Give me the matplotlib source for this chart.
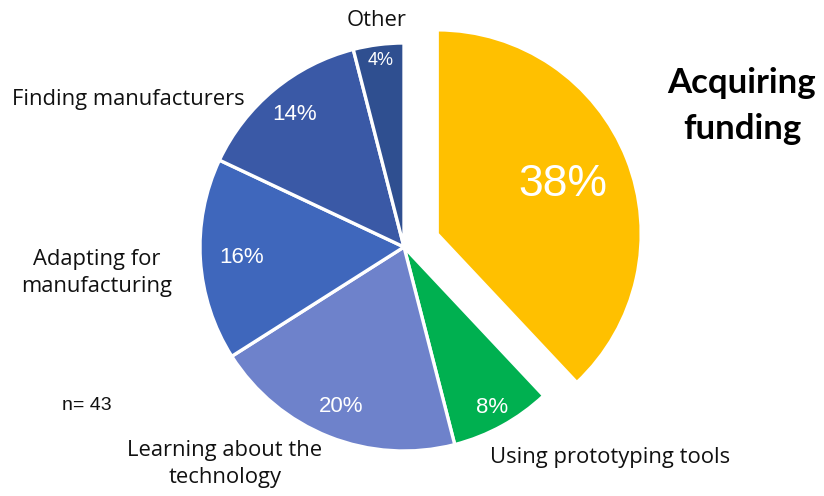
import numpy as np
import matplotlib
matplotlib.use("Agg")
import matplotlib.pyplot as plt

# Survey: biggest challenges reported (n = 43)
categories = ["Acquiring funding", "Using prototyping tools", "Learning about the technology",
              "Adapting for manufacturing", "Finding manufacturers", "Other"]
shares = [38, 8, 20, 16, 14, 4]
colors = ["#FFC000", "#00B050", "#6E82CB", "#3F67BC", "#3A59A6", "#2F4F90"]
explode_frac = [0.175, 0, 0, 0, 0, 0]
pct_dist = [0.66, 0.90, 0.84, 0.80, 0.84, 0.92]
pct_size = [32, 16, 16, 16, 16, 13]
sample_note = "n= 43"

W, H = 824, 496
fig = plt.figure(figsize=(W / 100, H / 100), dpi=100)
ax = fig.add_axes([0, 0, 1, 1])

cx, cy, R = 404, H - 247, 204
wedges, _ = ax.pie(shares, colors=colors, explode=[e * R for e in explode_frac],
                   startangle=90, counterclock=False, center=(cx, cy), radius=R,
                   wedgeprops=dict(edgecolor="white", linewidth=2.4),
                   frame=True)
ax.set_xlim(0, W)
ax.set_ylim(0, H)
ax.set_aspect("equal")
ax.axis("off")

for w, v, d, fs in zip(wedges, shares, pct_dist, pct_size):
    mid = np.deg2rad((w.theta1 + w.theta2) / 2)
    wx, wy = w.center
    ax.text(wx + d * R * np.cos(mid), wy + d * R * np.sin(mid), f"{v}%",
            color="white", fontsize=fs, ha="center", va="center",
            family="Liberation Sans")

lab_font = dict(family="Open Sans", fontsize=15.8, color="#111111")
ax.text(377, H - 21, "Other", ha="center", va="center", **lab_font)
ax.text(128, H - 100, "Finding manufacturers", ha="center", va="center", **lab_font)
ax.text(97, H - 273, "Adapting for\nmanufacturing", ha="center", va="center",
        linespacing=1.4, **lab_font)
ax.text(225, H - 464, "Learning about the\ntechnology", ha="center", va="center",
        linespacing=1.42, **lab_font)
ax.text(610, H - 458, "Using prototyping tools", ha="center", va="center", **lab_font)
ax.text(742, H - 106, "Acquiring\nfunding", ha="center", va="center",
        family="Lato", fontweight="bold", fontsize=25, color="black", linespacing=1.52)
ax.text(62, H - 406, sample_note, ha="left", va="center",
        family="Liberation Sans", fontsize=14, color="#111111")

fig.savefig("out.png", dpi=100)
